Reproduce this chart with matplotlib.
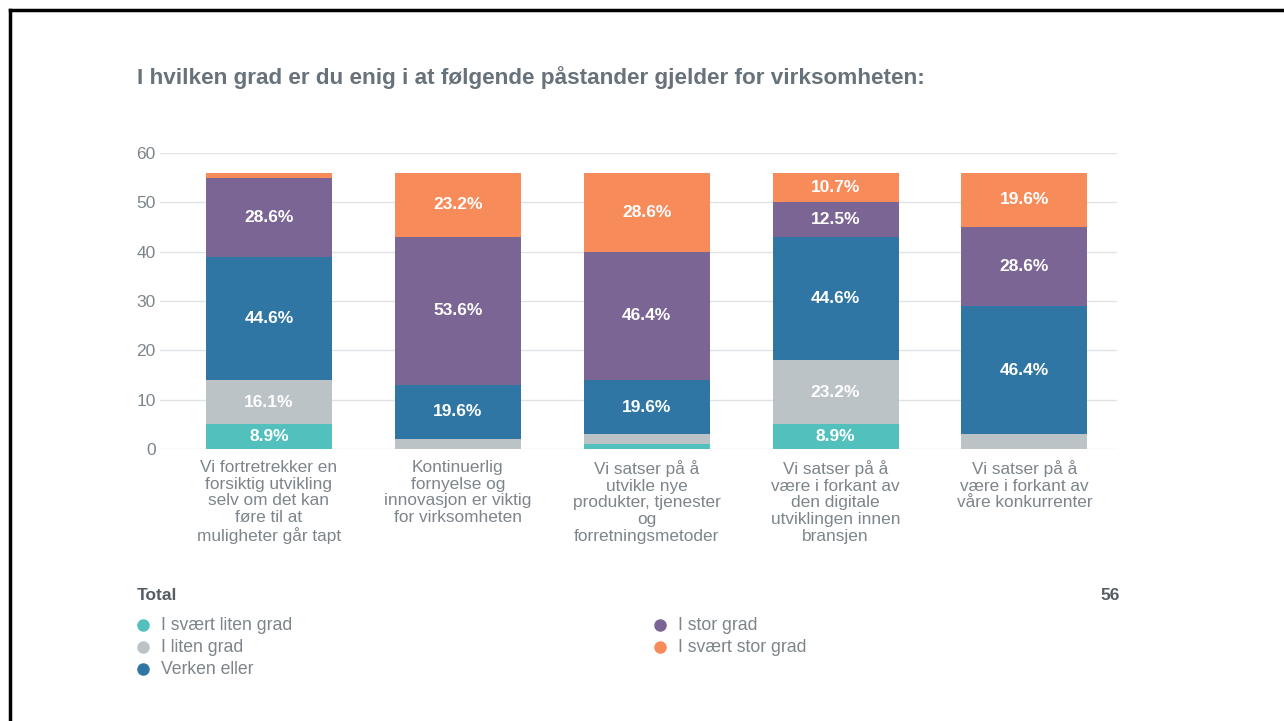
import matplotlib.pyplot as plt
from matplotlib.lines import Line2D
import numpy as np

plt.rcParams['font.family'] = ['Liberation Sans', 'DejaVu Sans']

# data (counts of respondents, total 56)
total = 56
categories = [
    'Vi fortretrekker en\nforsiktig utvikling\nselv om det kan\nføre til at\nmuligheter går tapt',
    'Kontinuerlig\nfornyelse og\ninnovasjon er viktig\nfor virksomheten',
    'Vi satser på å\nutvikle nye\nprodukter, tjenester\nog\nforretningsmetoder',
    'Vi satser på å\nvære i forkant av\nden digitale\nutviklingen innen\nbransjen',
    'Vi satser på å\nvære i forkant av\nvåre konkurrenter',
]
series_names = ['I svært liten grad', 'I liten grad', 'Verken eller', 'I stor grad', 'I svært stor grad']
svaert_liten = [5, 0, 1, 5, 0]
liten = [9, 2, 2, 13, 3]
verken = [25, 11, 11, 25, 26]
stor = [16, 30, 26, 7, 16]
svaert_stor = [1, 13, 16, 6, 11]
y_ticks = [0, 10, 20, 30, 40, 50, 60]

colors = ['#52c1bd', '#bcc3c7', '#2f76a5', '#7b6595', '#f78b59']
grid_col = '#dfe3e6'
text_col = '#7d858b'
title_col = '#67727a'

fig = plt.figure(figsize=(12.84, 7.21), dpi=100)
ax = fig.add_axes([160 / 1284, 1 - 449 / 721, (1117 - 160) / 1284, 296 / 721])

x = np.arange(len(categories))
bottom = np.zeros(len(categories))
for vals, col in zip([svaert_liten, liten, verken, stor, svaert_stor], colors):
    vals = np.array(vals, dtype=float)
    ax.bar(x, vals, 0.667, bottom=bottom, color=col, zorder=3)
    for xi, v, b in zip(x, vals, bottom):
        if v >= 5:
            ax.text(xi, b + v / 2, f'{v / total * 100:.1f}%', ha='center', va='center',
                    color='white', fontsize=12.5, fontweight='semibold', zorder=4)
    bottom += vals

ax.set_xlim(-0.577, 4.49)
ax.set_ylim(0, 60)
ax.set_yticks(y_ticks)
ax.set_xticks(x)
ax.set_xticklabels(categories, fontsize=12.4, color=text_col, linespacing=1.14)
ax.tick_params(axis='both', length=0)
ax.tick_params(axis='y', labelsize=12.5, labelcolor=text_col, pad=3)
ax.tick_params(axis='x', pad=8)
ax.grid(axis='y', color=grid_col, lw=1, zorder=0)
for s in ax.spines.values():
    s.set_visible(False)

# title
fig.text(137 / 1284, 1 - 78 / 721, 'I hvilken grad er du enig i at følgende påstander gjelder for virksomheten:',
         fontsize=16.2, fontweight='bold', color=title_col, va='center')

# total row
fig.text(137 / 1284, 1 - 595 / 721, 'Total', fontsize=12.5, fontweight='bold', color='#555d63', va='center')
fig.text(1120 / 1284, 1 - 595 / 721, str(total), fontsize=12.5, fontweight='bold', color='#555d63',
         va='center', ha='right')

# legend
legend_pos = [(143, 625), (143, 647), (143, 669), (660, 625), (660, 647)]
for name, col, (lx, ly) in zip(series_names, colors, legend_pos):
    fig.add_artist(Line2D([lx / 1284], [1 - ly / 721], marker='o', markersize=8, color=col,
                          transform=fig.transFigure))
    fig.text((lx + 18) / 1284, 1 - ly / 721, name, fontsize=12.7, color=text_col, va='center')

# screenshot frame lines (top and left)
fig.add_artist(Line2D([10 / 1284, 1], [1 - 10 / 721, 1 - 10 / 721], color='black', lw=2.5,
                      transform=fig.transFigure))
fig.add_artist(Line2D([10 / 1284, 10 / 1284], [0, 1 - 10 / 721], color='black', lw=2.5,
                      transform=fig.transFigure))

fig.savefig('out.png', dpi=100)
